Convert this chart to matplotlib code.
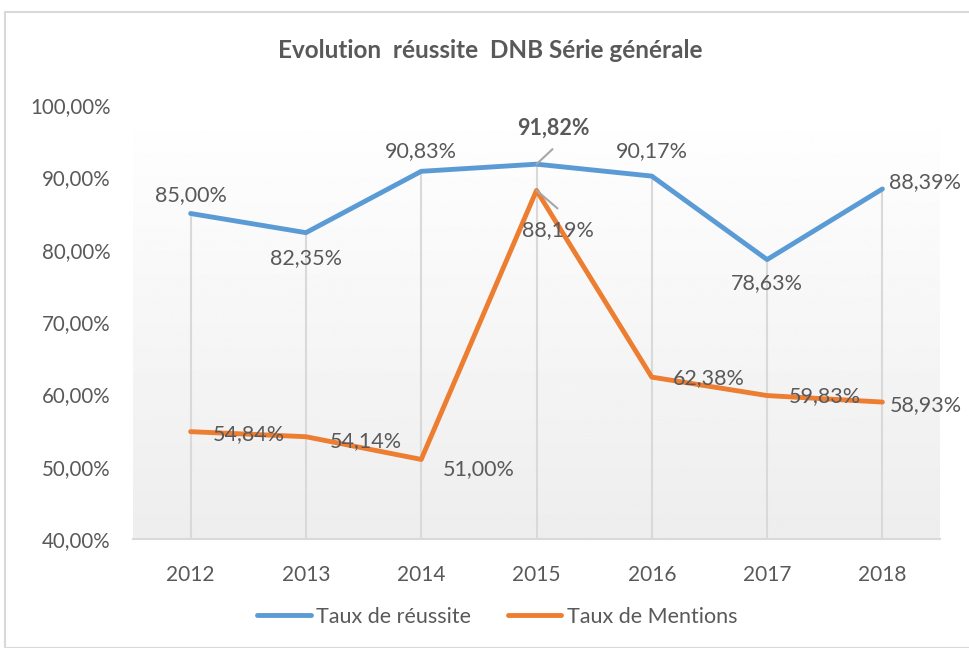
import numpy as np
import matplotlib
matplotlib.use("Agg")
import matplotlib.pyplot as plt
from matplotlib.patches import Rectangle
from matplotlib.lines import Line2D

plt.rcParams['font.family'] = ['Lato', 'DejaVu Sans']

# data
years = ["2012", "2013", "2014", "2015", "2016", "2017", "2018"]
reussite = [85.00, 82.35, 90.83, 91.82, 90.17, 78.63, 88.39]
mentions = [54.84, 54.14, 51.00, 88.19, 62.38, 59.83, 58.93]
y_ticks = [40, 50, 60, 70, 80, 90, 100]

BLUE = "#5B9BD5"
ORANGE = "#ED7D31"
TXT = "#595959"
GRID = "#D9D9D9"
LEADER = "#A6A6A6"
LBL = 15.5

def fmt(v):
    return f"{v:.2f}%".replace(".", ",")

fig = plt.figure(figsize=(9.69, 6.48), dpi=100)
fig.patches.append(Rectangle((5 / 969, 0), 1.0, 1 - 12 / 648, transform=fig.transFigure,
                             fill=False, edgecolor=GRID, linewidth=1.5))

ax = fig.add_axes([133 / 969, 1 - 539 / 648, (940 - 133) / 969, (539 - 105) / 648])
x = np.arange(len(years))
ax.set_xlim(-0.5, len(years) - 0.5)
ax.set_ylim(40, 100)

# gradient background of the plot area
grad = np.linspace(1.0, 0.93, 256).reshape(-1, 1)
ax.imshow(grad, cmap="gray", vmin=0, vmax=1, aspect="auto",
          extent=[-0.5, len(years) - 0.5, 40, 100], zorder=0, origin="upper")

# drop lines
tops = [max(a, b) for a, b in zip(reussite, mentions)]
ax.vlines(x, 40, tops, color=GRID, linewidth=1.5, zorder=1)

ax.plot(x, reussite, color=BLUE, linewidth=3.5, solid_capstyle="round", zorder=3)
ax.plot(x, mentions, color=ORANGE, linewidth=3.5, solid_capstyle="round", zorder=3)

for s in ["top", "left", "right"]:
    ax.spines[s].set_visible(False)
ax.spines["bottom"].set_color(GRID)
ax.spines["bottom"].set_linewidth(1.5)
ax.set_xticks(x)
ax.set_xticklabels(years)
ax.set_yticks(y_ticks)
ax.set_yticklabels([f"{v},00%" for v in y_ticks])
ax.tick_params(length=0, labelcolor=TXT)
ax.tick_params(axis="x", pad=19, labelsize=15)
ax.tick_params(axis="y", pad=16, labelsize=14.8)

# data labels (offsets in pixels)
blue_off = [(0, 18, "center"), (0, -25, "center"), (0, 20, "center"), None,
            (0, 25, "center"), (0, -24, "center"), (7, 7, "left")]
orange_off = [(22, -2, "left"), (24, -4, "left"), (22, -10, "left"), None,
              (21, -1, "left"), (22, -1, "left"), (7, -3, "left")]

for i, v in enumerate(reussite):
    o = blue_off[i]
    if o is None:
        continue
    ax.annotate(fmt(v), (x[i], v), xytext=(o[0], o[1]), textcoords="offset pixels",
                ha=o[2], va="center", fontsize=LBL, color=TXT, zorder=5)
for i, v in enumerate(mentions):
    o = orange_off[i]
    if o is None:
        continue
    ax.annotate(fmt(v), (x[i], v), xytext=(o[0], o[1]), textcoords="offset pixels",
                ha=o[2], va="center", fontsize=LBL, color=TXT, zorder=5)

# 2015 labels, moved away from the point, with leader lines
ax.annotate(fmt(reussite[3]), (x[3], reussite[3]), xytext=(17, 36), textcoords="offset pixels",
            ha="center", va="center", fontsize=LBL, fontweight="bold", color=TXT)
ax.annotate("", (x[3], reussite[3]), xytext=(16, 15), textcoords="offset pixels",
            arrowprops=dict(arrowstyle="-", color=LEADER, lw=1.5, shrinkA=0, shrinkB=0),
            zorder=4)
ax.annotate(fmt(mentions[3]), (x[3], mentions[3]), xytext=(21, -40), textcoords="offset pixels",
            ha="center", va="center", fontsize=LBL, color=TXT)
ax.annotate("", (x[3], mentions[3]), xytext=(21, -18), textcoords="offset pixels",
            arrowprops=dict(arrowstyle="-", color=LEADER, lw=1.5, shrinkA=0, shrinkB=0),
            zorder=4)

fig.text(490 / 969, 1 - 50 / 648, "Evolution  réussite  DNB Série générale",
         ha="center", va="center", fontsize=17.5, fontweight="bold", color=TXT)

handles = [Line2D([], [], color=BLUE, linewidth=3.5, solid_capstyle="round"),
           Line2D([], [], color=ORANGE, linewidth=3.5, solid_capstyle="round")]
leg = fig.legend(handles, ["Taux de réussite", "Taux de Mentions"], loc="center", ncol=2,
                 bbox_to_anchor=(497 / 969, 1 - 617 / 648), frameon=False, fontsize=15.5,
                 handlelength=2.5, handletextpad=0.25, columnspacing=1.7)
for t in leg.get_texts():
    t.set_color(TXT)

fig.savefig("out.png", dpi=100)
